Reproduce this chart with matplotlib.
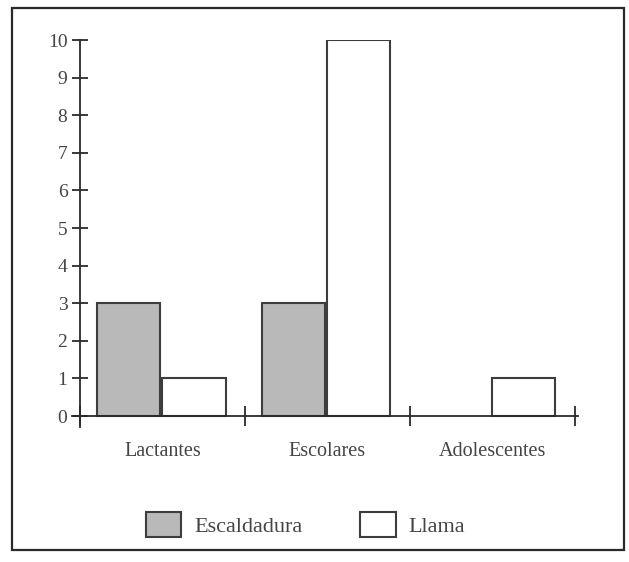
import matplotlib
matplotlib.use("Agg")
import matplotlib.pyplot as plt
import numpy as np
from matplotlib.patches import Rectangle

categories = ["Lactantes", "Escolares", "Adolescentes"]
escaldadura = [3, 3, 0]
llama = [1, 10, 1]
series_names = ["Escaldadura", "Llama"]
yticks = list(range(0, 11))

plt.rcParams['font.family'] = ['Liberation Serif', 'DejaVu Serif']
txt = '#444444'
edge = '#3d3d3d'

fig = plt.figure(figsize=(6.29, 5.62), dpi=100)
fig.patches.append(Rectangle((0.019, 0.021), 0.973, 0.964, transform=fig.transFigure,
                             fill=False, edgecolor='#2a2a2a', linewidth=1.6))

ax = fig.add_axes([0.114, 0.2397, 0.805, 0.689])
x = np.arange(len(categories))
w = 0.385
b1 = ax.bar(x + 0.295, escaldadura, w, color='#b9b9b9', edgecolor=edge, linewidth=1.5,
            label=series_names[0])
b2 = ax.bar(x + 0.69, llama, w, color='white', edgecolor=edge, linewidth=1.5,
            label=series_names[1])
for r, v in zip(b1, escaldadura):
    if v == 0:
        r.set_visible(False)

ax.set_xlim(-0.05, 3.02)
ax.set_ylim(-0.3, 10)
ax.spines['top'].set_visible(False)
ax.spines['right'].set_visible(False)
ax.spines['left'].set_position(('data', 0))
ax.spines['bottom'].set_position(('data', 0))
for s in ('left', 'bottom'):
    ax.spines[s].set_color('#2a2a2a')
    ax.spines[s].set_linewidth(1.3)

ax.set_yticks(yticks)
ax.set_yticklabels([str(t) for t in yticks], fontsize=14, color=txt)
ax.tick_params(axis='y', direction='inout', length=12, width=1.3, pad=3, color='#2a2a2a')

ax.set_xticks([0, 1, 2, 3])
ax.set_xticklabels([])
ax.tick_params(axis='x', which='major', direction='inout', length=14, width=1.3, color='#2a2a2a')
ax.set_xticks(x + 0.5, minor=True)
ax.set_xticklabels(categories, minor=True, fontsize=14.5, color=txt)
ax.tick_params(axis='x', which='minor', length=0, pad=19)

fig.legend(handles=[b1, b2], labels=series_names, loc='center', bbox_to_anchor=(0.486, 0.066),
           ncol=2, frameon=False, fontsize=16, handlelength=1.58, handleheight=1.35,
           handletextpad=0.6, columnspacing=2.6, labelcolor=txt)

fig.savefig('out.png', dpi=100)
